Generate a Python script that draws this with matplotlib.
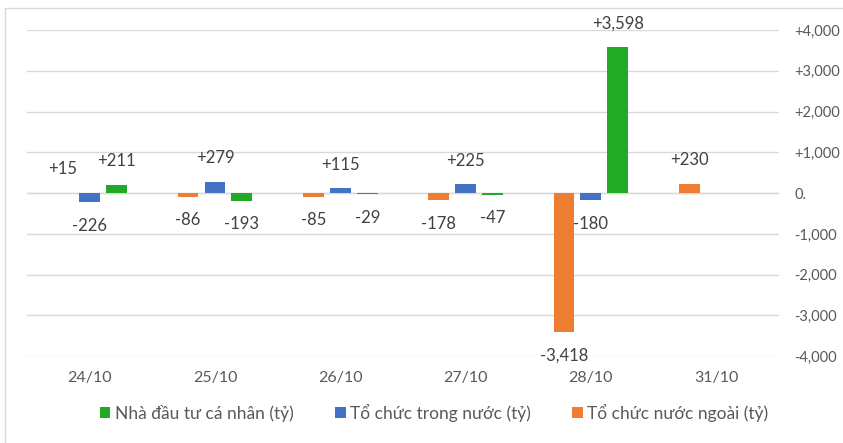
import numpy as np
import matplotlib.pyplot as plt
from matplotlib.patches import Rectangle

plt.rcParams['font.family'] = ['Lato', 'DejaVu Sans']

days = ['24/10', '25/10', '26/10', '27/10', '28/10', '31/10']
foreign = [15, -86, -85, -178, -3418, 230]
domestic = [-226, 279, 115, 225, -180, None]
retail = [211, -193, -29, -47, 3598, None]

series = [
    ('Tổ chức nước ngoài (tỷ)', foreign, '#ED7D31'),
    ('Tổ chức trong nước (tỷ)', domestic, '#4472C4'),
    ('Nhà đầu tư cá nhân (tỷ)', retail, '#22AA27'),
]

fig = plt.figure(figsize=(8.43, 4.43), dpi=100)
ax = fig.add_axes([0.032, 0.196, 0.892, 0.736])

x = np.arange(len(days))
step = 0.215
width = 0.167
handles = {}
for i, (name, vals, col) in enumerate(series):
    pos = x + (i - 1) * step
    v = [np.nan if a is None else a for a in vals]
    b = ax.bar(pos, v, width, color=col, label=name, zorder=3)
    handles[name] = b
    for p, a in zip(pos, vals):
        if a is None:
            continue
        txt = f'+{a:,}' if a > 0 else f'{a:,}'
        off = 11 if a >= 0 else -11
        ax.annotate(txt, (p, a), xytext=(0, off), textcoords='offset points',
                    ha='center', va='bottom' if a >= 0 else 'top',
                    fontsize=12, color='#404040', zorder=4)

ax.set_ylim(-4000, 4000)
ax.set_xlim(-0.5, len(days) - 0.5)
ticks = np.arange(-4000, 4001, 1000)
ax.set_yticks(ticks)
ax.set_yticklabels([('+' if t > 0 else '') + (f'{t:,}' if t != 0 else '0.') for t in ticks])
ax.yaxis.tick_right()
ax.tick_params(axis='y', length=0, pad=11, labelsize=10.5, labelcolor='#595959')
ax.set_xticks(x)
ax.set_xticklabels(days)
ax.tick_params(axis='x', length=0, pad=11, labelsize=11.5, labelcolor='#595959')
ax.grid(axis='y', color='#D9D9D9', linewidth=1, zorder=0)
for s in ax.spines.values():
    s.set_visible(False)
ax.axhline(0, color='#D9D9D9', linewidth=1, zorder=1)

order = ['Nhà đầu tư cá nhân (tỷ)', 'Tổ chức trong nước (tỷ)', 'Tổ chức nước ngoài (tỷ)']
fig.legend([handles[n] for n in order], order, loc='center', bbox_to_anchor=(0.515, 0.068),
           ncol=3, frameon=False, fontsize=12.5, labelcolor='#595959',
           handlelength=0.6, handleheight=0.6, handletextpad=0.25, columnspacing=2.4)

fig.patches.append(Rectangle((0.006, -0.01), 1.0, 0.992, transform=fig.transFigure,
                             fill=False, edgecolor='#D9D9D9', linewidth=1))

fig.savefig('out.png', dpi=100)
